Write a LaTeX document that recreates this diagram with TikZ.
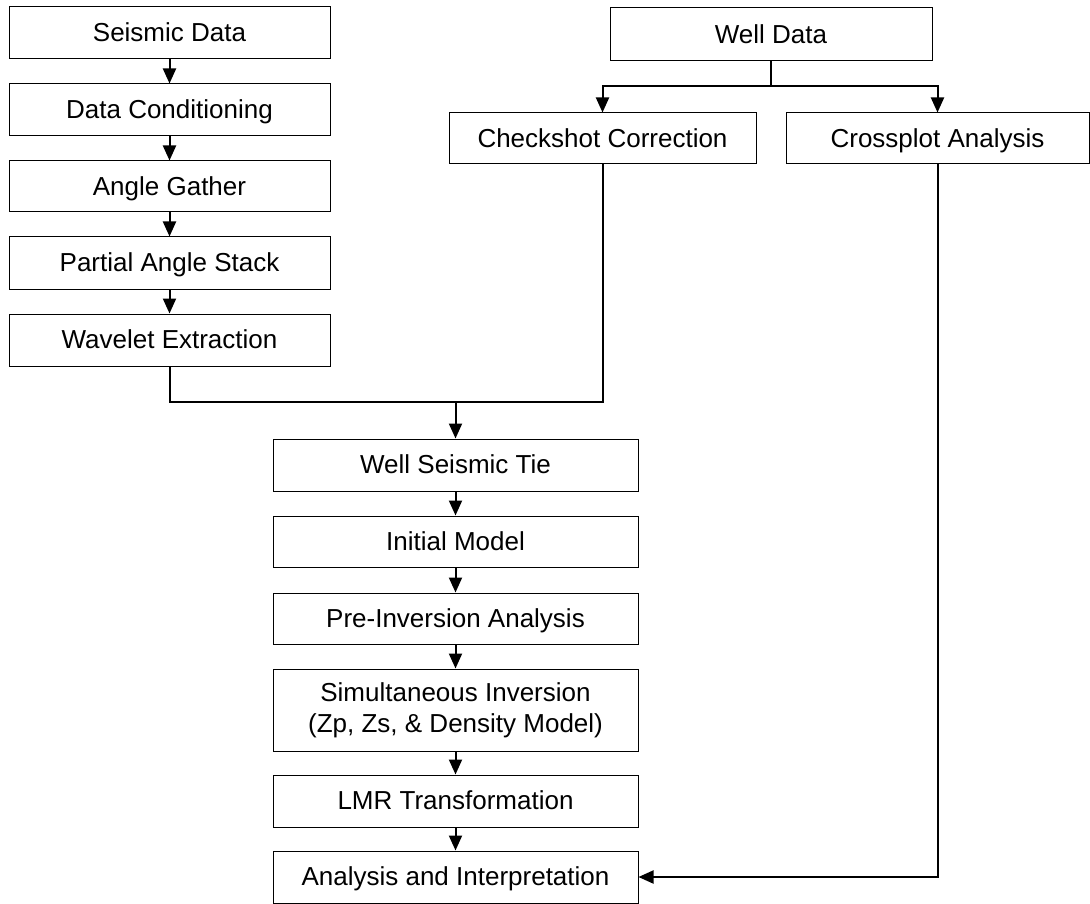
\documentclass[tikz,border=0pt]{standalone}
\usepackage{fontspec}
\setmainfont{Liberation Sans}
\usetikzlibrary{arrows.meta}
\begin{document}
\begin{tikzpicture}[x=1pt,y=-1pt,
  box/.style={draw=black,line width=1pt,fill=white,inner sep=0pt,align=center,
    font=\fontsize{26}{31}\selectfont,minimum height=52pt,
    text height=18.6pt,text depth=1pt},
  leftbox/.style={box,minimum width=321pt},
  midbox/.style={box,minimum width=365pt},
  link/.style={line width=2pt},
  arrow/.style={link,-{Triangle[length=15pt,width=13pt]}}]
\useasboundingbox (0,0) rectangle (1090,904);
\fill[white] (0,0) rectangle (1090,904);

% seismic processing column
\node[leftbox] (sd)  at (169.5,33)    {Seismic Data};
\node[leftbox] (dc)  at (169.5,110)   {Data Conditioning};
\node[leftbox,minimum height=51pt] (ag)  at (169.5,186.5) {Angle Gather};
\node[leftbox] (pas) at (169.5,263)   {Partial Angle Stack};
\node[leftbox] (we)  at (169.5,340)   {Wavelet Extraction};

% well data branch
\node[box,minimum width=322pt,minimum height=53pt] (wd) at (771,34.5) {Well Data};
\node[box,minimum width=307pt,minimum height=51pt] (cc) at (602.5,138.5) {Checkshot Correction};
\node[box,minimum width=303pt,minimum height=51pt] (ca) at (937.5,138.5) {Crossplot Analysis};

% inversion column
\node[midbox] (wst) at (455.5,465)   {Well Seismic Tie};
\node[midbox,minimum height=51pt] (im)  at (455.5,541.5) {Initial Model};
\node[midbox,minimum height=51pt] (pia) at (455.5,618.5) {Pre-Inversion Analysis};
\node[midbox,minimum height=82pt,text height=,text depth=] (si) at (455.5,710)
  {Simultaneous Inversion\\(Zp, Zs, \& Density Model)};
\node[midbox] (lmr) at (455.5,801)   {LMR Transformation};
\node[midbox] (ai)  at (455.5,877)   {Analysis and Interpretation};

% connectors
\draw[arrow] (sd) -- (dc);
\draw[arrow] (dc) -- (ag);
\draw[arrow] (ag) -- (pas);
\draw[arrow] (pas) -- (we);

\coordinate (split) at (771,86);
\draw[link] (wd.south) -- (split);
\draw[arrow] (split) -| (cc.north);
\draw[arrow] (split) -| (ca.north);

\coordinate (merge) at (455.5,402);
\draw[link] (we.south) |- (merge) -| (cc.south);
\draw[arrow] (merge) -- (wst.north);

\draw[arrow] (wst) -- (im);
\draw[arrow] (im) -- (pia);
\draw[arrow] (pia) -- (si);
\draw[arrow] (si) -- (lmr);
\draw[arrow] (lmr) -- (ai);

\draw[arrow] (ca.south) |- (ai.east);
\end{tikzpicture}
\end{document}
